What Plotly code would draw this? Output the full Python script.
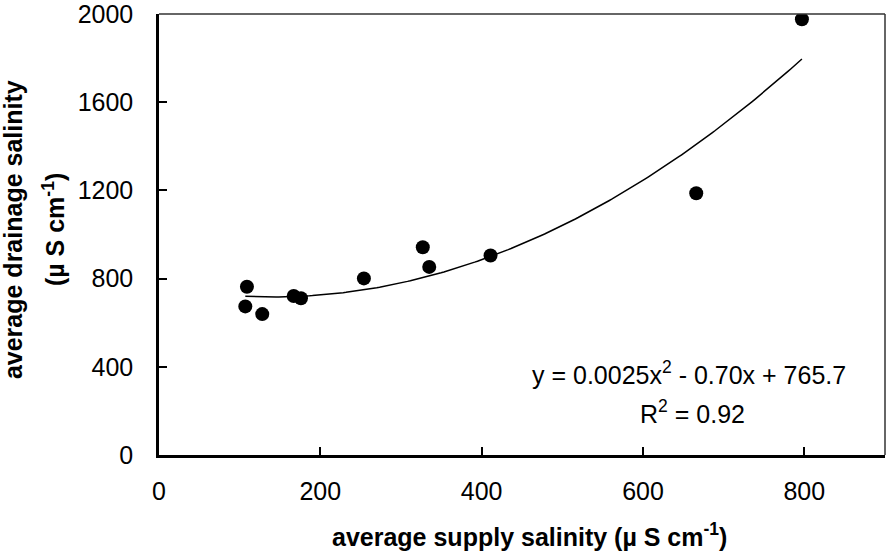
import numpy as np
import plotly.graph_objects as go

# Measured supply vs drainage salinity (µS cm-1)
supply = [107, 109, 128, 167, 176, 254, 327, 335, 411, 666, 797]
drainage = [674, 763, 639, 721, 711, 801, 942, 853, 905, 1187, 1976]

# Second-order fit reported for the data
coef_a, coef_b, coef_c = 0.0025, -0.70, 765.7
r_squared = 0.92

x_ticks = [0, 200, 400, 600, 800]
y_ticks = [0, 400, 800, 1200, 1600, 2000]

fit_x = np.linspace(min(supply), max(supply), 200)
fit_y = coef_a * fit_x**2 + coef_b * fit_x + coef_c

FONT = "Liberation Sans, Arial, sans-serif"

fig = go.Figure()
fig.add_trace(go.Scatter(
    x=fit_x, y=fit_y, mode="lines",
    line=dict(color="black", width=1.5), hoverinfo="skip",
))
fig.add_trace(go.Scatter(
    x=supply, y=drainage, mode="markers",
    marker=dict(color="black", size=14),
))

axis_common = dict(
    showgrid=False, zeroline=False, showline=True,
    linecolor="black", linewidth=2.5,
    ticks="inside", ticklen=8, tickwidth=1.5, tickcolor="black",
    tickfont=dict(family=FONT, size=25, color="black"),
    ticklabeloverflow="allow",
)

fig.update_xaxes(range=[0, 900], tickvals=x_ticks, ticklabelstandoff=12, **axis_common)
fig.update_yaxes(range=[0, 2000], tickvals=y_ticks, ticklabelstandoff=18, **axis_common)

# thin frame along the top and right edges of the plot area
fig.add_shape(type="line", xref="paper", yref="paper", x0=0, x1=1, y0=1, y1=1,
              line=dict(color="#333333", width=1.5))
fig.add_shape(type="line", xref="paper", yref="paper", x0=1, x1=1, y0=0, y1=1,
              line=dict(color="#333333", width=1.5))

eq_text = (f"y = {coef_a:.4f}x<sup>2</sup> - {abs(coef_b):.2f}x + {coef_c:.1f}")
r2_text = f"R<sup>2</sup> = {r_squared:.2f}"

annotations = [
    dict(text=eq_text, x=0.73, y=0.185, xref="paper", yref="paper",
         xanchor="center", yanchor="middle", showarrow=False,
         font=dict(family=FONT, size=25, color="black")),
    dict(text=r2_text, x=0.735, y=0.098, xref="paper", yref="paper",
         xanchor="center", yanchor="middle", showarrow=False,
         font=dict(family=FONT, size=25, color="black")),
    dict(text="<b>average supply salinity (µ S cm<sup>-1</sup>)</b>",
         x=0.511, y=-0.182, xref="paper", yref="paper",
         xanchor="center", yanchor="middle", showarrow=False,
         font=dict(family=FONT, size=25, color="black")),
    dict(text="<b>average drainage salinity</b>", textangle=-90,
         x=0, y=0.51, xref="paper", yref="paper",
         xanchor="center", yanchor="middle", xshift=-146, showarrow=False,
         font=dict(family=FONT, size=25, color="black")),
    dict(text="<b>(µ S cm<sup>-1</sup>)</b>", textangle=-90,
         x=0, y=0.51, xref="paper", yref="paper",
         xanchor="center", yanchor="middle", xshift=-105, showarrow=False,
         font=dict(family=FONT, size=25, color="black")),
]

fig.update_layout(
    width=886, height=556,
    margin=dict(l=159, r=1, t=14, b=101),
    paper_bgcolor="white", plot_bgcolor="white",
    showlegend=False,
    annotations=annotations,
)

fig.write_html("out.html")
